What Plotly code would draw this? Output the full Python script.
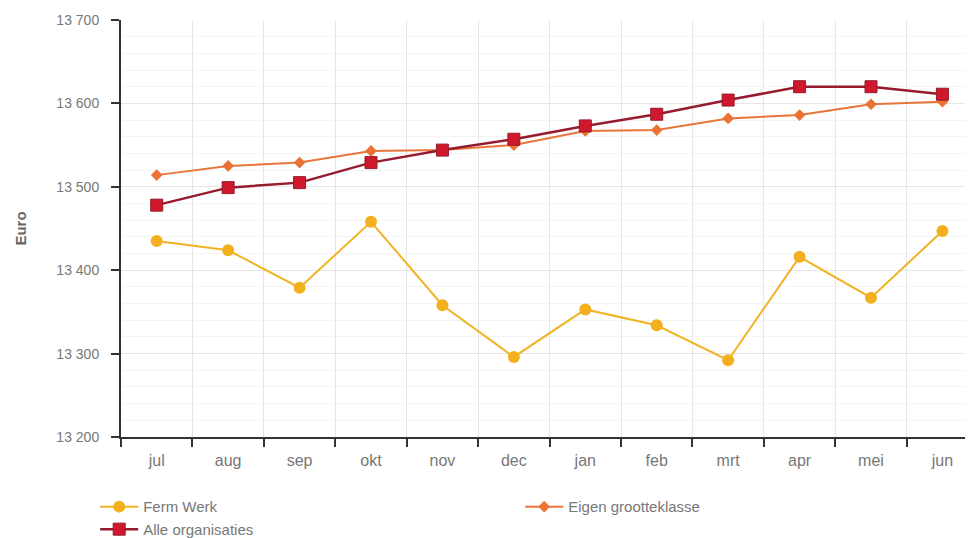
import plotly.graph_objects as go

months = ["jul", "aug", "sep", "okt", "nov", "dec", "jan", "feb", "mrt", "apr", "mei", "jun"]
ferm_werk = [13435, 13424, 13379, 13458, 13358, 13296, 13353, 13334, 13292, 13416, 13367, 13447]
eigen_grootteklasse = [13514, 13525, 13529, 13543, 13544, 13550, 13567, 13568, 13582, 13586, 13599, 13602]
alle_organisaties = [13478, 13499, 13505, 13529, 13544, 13557, 13573, 13587, 13604, 13620, 13620, 13611]
y_ticks = [13200, 13300, 13400, 13500, 13600, 13700]

fig = go.Figure()
fig.add_trace(go.Scatter(
    x=months, y=ferm_werk, name="Ferm Werk", mode="lines+markers",
    line=dict(color="#F0B323", width=2),
    marker=dict(symbol="circle", size=12, color="#F2B01E"),
))
fig.add_trace(go.Scatter(
    x=months, y=eigen_grootteklasse, name="Eigen grootteklasse", mode="lines+markers",
    line=dict(color="#E8763A", width=2),
    marker=dict(symbol="diamond", size=9, color="#EA7235"),
))
fig.add_trace(go.Scatter(
    x=months, y=alle_organisaties, name="Alle organisaties", mode="lines+markers",
    line=dict(color="#961B2C", width=2.5),
    marker=dict(symbol="square", size=12, color="#D0182C", line=dict(color="#961B2C", width=1)),
))

fig.update_layout(
    width=973, height=538,
    margin=dict(l=113, r=0, t=12, b=109, autoexpand=False),
    paper_bgcolor="white", plot_bgcolor="white",
    font=dict(family="Liberation Sans, Arial, sans-serif", color="#707070", size=13),
    separators=", ",
    showlegend=True,
    legend=dict(
        orientation="h", x=-0.030, y=-0.128, xanchor="left", yanchor="top",
        entrywidth=372, entrywidthmode="pixels",
        font=dict(size=15, color="#777777"),
        tracegroupgap=0, itemwidth=38,
    ),
    xaxis=dict(
        type="category", categoryorder="array", categoryarray=months,
        range=[-0.5, 11.54], automargin=False,
        tickson="boundaries", ticks="outside", ticklen=8, tickcolor="#333333", tickwidth=2,
        ticklabelstandoff=8,
        showline=True, linecolor="#333333", linewidth=2,
        showgrid=True, gridcolor="#E6E6E6", gridwidth=1,
        tickfont=dict(size=16, color="#777777"),
        zeroline=False,
    ),
    yaxis=dict(
        range=[13200, 13700], tickvals=y_ticks, tickformat=",d", automargin=False,
        ticks="outside", ticklen=8, tickcolor="#333333", tickwidth=2,
        ticklabelstandoff=9,
        showline=True, linecolor="#333333", linewidth=2,
        showgrid=True, gridcolor="#E6E6E6", gridwidth=1,
        minor=dict(dtick=20, tick0=13200, showgrid=True, gridcolor="#F4F4F4", gridwidth=1),
        tickfont=dict(size=14, color="#777777"),
        title=dict(text="<b>Euro</b>", font=dict(size=15, color="#666666"), standoff=26),
        zeroline=False,
    ),
)

fig.write_html("out.html")
